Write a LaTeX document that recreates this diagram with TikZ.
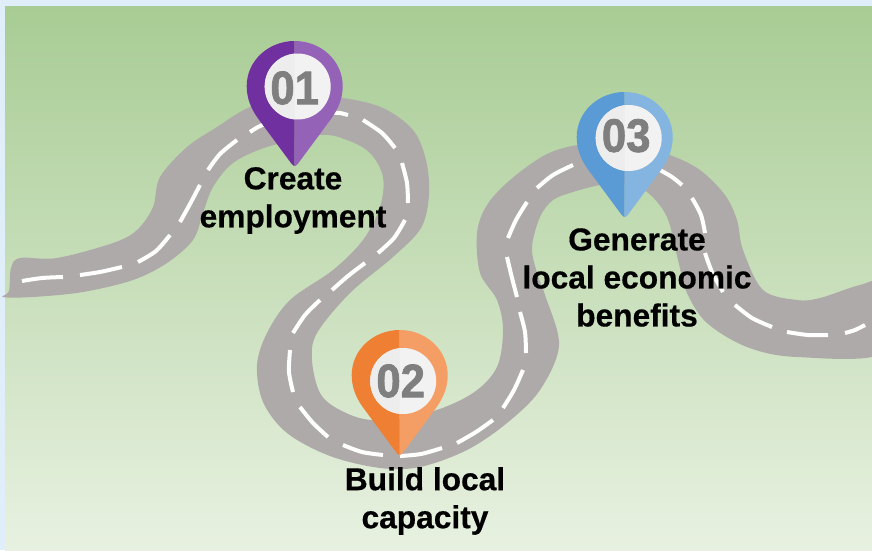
\documentclass[tikz,border=0pt]{standalone}
\usepackage{fontspec}
\setmainfont{Liberation Sans}
\newfontfamily\numfont[BoldFeatures={FakeBold=1.6}]{Liberation Sans}
\newfontfamily\capfont[BoldFeatures={FakeBold=0.5}]{Liberation Sans}
\definecolor{roadgrey}{HTML}{AEAAA9}
\definecolor{pageblue}{HTML}{DFEEF8}
\definecolor{greentop}{HTML}{A8CC94}
\definecolor{greenbot}{HTML}{E8F1E1}
\definecolor{numgrey}{HTML}{7F7F7F}
\definecolor{purpleD}{HTML}{7030A0}
\definecolor{purpleL}{HTML}{9463B7}
\definecolor{orangeD}{HTML}{EF7F33}
\definecolor{orangeL}{HTML}{F49E65}
\definecolor{blueD}{HTML}{5B9BD5}
\definecolor{blueL}{HTML}{84B4E0}
\tikzset{
  dashline/.style={draw=white,line width=4pt,line cap=butt},
  roadfill/.style={fill=roadgrey,draw=none},
  numlabel/.style={text=numgrey,inner sep=0pt,font=\numfont\bfseries\fontsize{47}{47}\selectfont},
  caption/.style={text=black,inner sep=0pt,align=center,anchor=center,font=\capfont\bfseries\fontsize{31.7}{38}\selectfont}
}
\newcommand{\mappin}[9]{%
  \begin{scope}[shift={(#1,#2)}]
    \fill[#3] (0,0) .. controls (-26.5,0) and (-48,20) .. (-48,45) .. controls (-48,57) and (-44,67) .. (-37,77) -- (-3,123) .. controls (-1.5,125) and (0,125) .. (0,125) -- cycle;
    \fill[#4] (0,0) .. controls (26.5,0) and (48,20) .. (48,45) .. controls (48,57) and (44,67) .. (37,77) -- (3,123) .. controls (1.5,125) and (0,125) .. (0,125) -- cycle;
    \fill[white!95!black] (#5,#6) circle (33);
    \begin{scope}
      \clip (-60,0) rectangle (0,130);
      \fill[white!93!black] (#5,#6) circle (33);
    \end{scope}
    \node[numlabel] (num#7) at (#8,#9) {\scalebox{.93}[1]{#7}};
  \end{scope}}
\begin{document}
\begin{tikzpicture}[x=1pt,y=-1pt]
\useasboundingbox (0,0) rectangle (872,550);
\fill[pageblue] (0,0) rectangle (872,550);
\shade[top color=greentop,bottom color=greenbot] (5,6) rectangle (872,550);
\begin{scope}
\clip (0,0) rectangle (872,550);
\fill[roadfill] plot[smooth cycle,tension=.55] coordinates {
(3,297)(9,291)(11,268)(20,258)(57,258)(113,243)(137,230)(153,207)(160,177)(187,147)(217,127)(250,107)(295,95)(343,98)(383,108)(413,130)(426,160)(429,195)(421,228)(393,257)(350,293)(317,333)(312,360)(320,393)(340,410)(373,420)(430,412)(473,393)(497,367)(503,330)(497,300)(480,273)(477,233)(487,205)(510,180)(545,155)(577,145)(624,140)(670,155)(700,170)(725,195)(737,220)(743,250)(763,290)(797,300)(820,298)(860,285)(885,284)(885,352)(797,357)(747,347)(707,323)(687,293)(678,260)(667,217)(647,192)(624,183)(600,185)(573,192)(553,200)(540,217)(532,247)(537,273)(545,295)(559,345)(540,390)(507,423)(467,450)(420,467)(380,468)(330,456)(287,433)(263,402)(257,365)(267,333)(290,300)(333,270)(363,240)(380,207)(383,177)(370,153)(347,140)(320,135)(267,147)(233,163)(213,187)(203,213)(193,240)(167,263)(133,280)(83,292)(33,297)};
\foreach \a/\b/\c in {
 {(22,281)}/{(42,278)}/{(63,277)},
 {(80,275)}/{(100,272)}/{(122,267)},
 {(138,262)}/{(156,251)}/{(170,235)},
 {(180,222)}/{(190,204)}/{(200,185)},
 {(208,170)}/{(220,154)}/{(237,140)},
 {(250,132)}/{(258,127)}/{(267,123)},
 {(333,113)}/{(340,113)}/{(348,115)},
 {(363,120)}/{(382,133)}/{(395,148)},
 {(402,163)}/{(407,183)}/{(408,203)},
 {(405,220)}/{(394,238)}/{(378,253)},
 {(365,263)}/{(348,276)}/{(332,290)},
 {(320,300)}/{(305,315)}/{(293,333)},
 {(290,350)}/{(289,372)}/{(293,392)},
 {(300,407)}/{(313,423)}/{(328,437)},
 {(343,445)}/{(362,452)}/{(383,455)},
 {(400,456)}/{(421,454)}/{(442,448)},
 {(457,443)}/{(476,432)}/{(493,420)},
 {(503,408)}/{(514,390)}/{(523,370)},
 {(526,353)}/{(525,332)}/{(520,312)},
 {(517,297)}/{(512,278)}/{(507,257)},
 {(508,238)}/{(516,220)}/{(527,202)},
 {(537,188)}/{(553,175)}/{(573,165)},
 {(660,170)}/{(672,177)}/{(682,185)},
 {(692,198)}/{(701,215)}/{(705,233)},
 {(705,253)}/{(712,272)}/{(723,292)},
 {(735,305)}/{(752,318)}/{(772,327)},
 {(787,332)}/{(808,335)}/{(828,335)},
 {(845,333)}/{(855,330)}/{(865,325)}}
  \draw[dashline] plot[smooth] coordinates {\a \b \c};
\end{scope}
\mappin{294.7}{41}{purpleD}{purpleL}{3}{45.5}{01}{0}{47}
\mappin{399.7}{330}{orangeD}{orangeL}{3.5}{51}{02}{1}{51}
\mappin{624.7}{92}{blueD}{blueL}{4}{46}{03}{1.5}{43.7}
\node[caption] (create) at (293,200.5) {Create\\employment};
\node[caption] (build) at (425,501) {Build local\\capacity};
\node[caption] (generate) at (637,277.5) {Generate\\local economic\\benefits};
\end{tikzpicture}
\end{document}
